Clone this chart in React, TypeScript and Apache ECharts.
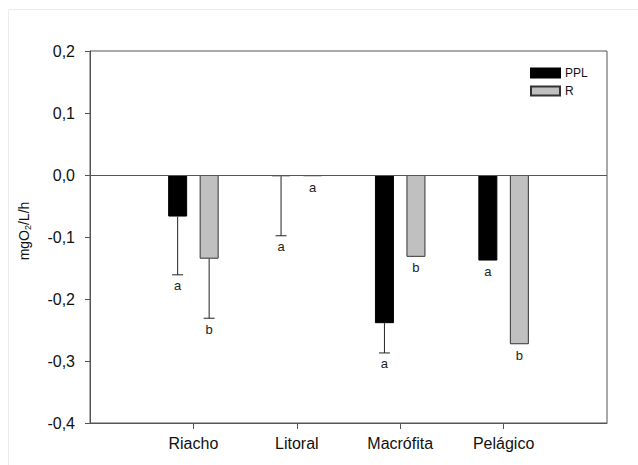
import React, { useEffect, useRef } from 'react';
import * as echarts from 'echarts';

const categories = ['Riacho', 'Litoral', 'Macrófita', 'Pelágico'];
const pplValues = [-0.067, -0.002, -0.239, -0.138];
const rValues = [-0.135, -0.002, -0.132, -0.273];
const pplErrors = [0.094, 0.096, 0.048, 0];
const rErrors = [0.096, 0, 0, 0];
const pplLetters = ['a', 'a', 'a', 'a'];
const rLetters = ['b', 'a', 'b', 'b'];
const yMin = -0.4;
const yMax = 0.2;
const yStep = 0.1;
const yTitle = 'mgO{sub|2}/L/h';

const FONT = '"Liberation Sans", Arial, sans-serif';
const BAR_W = 19;
const BAR_GAP_PX = 12.5;

const axisCategories = ['', ...categories, ' '];

function makeRender(offset: number, letters: string[]) {
  return (params: any, api: any) => {
    const idx = api.value(0);
    const v = api.value(1);
    const e = api.value(2);
    const top = api.coord([idx, v]);
    const end = api.coord([idx, v - e]);
    const x = top[0] + offset;
    const children: any[] = [];
    if (e > 0) {
      children.push({
        type: 'line',
        shape: { x1: x, y1: top[1], x2: x, y2: end[1] },
        style: { stroke: '#222', lineWidth: 1 },
      });
      children.push({
        type: 'line',
        shape: { x1: x - 5.5, y1: end[1], x2: x + 5.5, y2: end[1] },
        style: { stroke: '#222', lineWidth: 1 },
      });
    }
    children.push({
      type: 'text',
      x,
      y: end[1] + 11,
      style: {
        text: letters[params.dataIndex],
        fill: '#222',
        fontSize: 13,
        fontFamily: FONT,
        align: 'center',
        verticalAlign: 'middle',
      },
    });
    return { type: 'group', children };
  };
}

export default function App() {
  const ref = useRef<HTMLDivElement>(null);
  useEffect(() => {
    if (!ref.current) return;
    const chart = echarts.init(ref.current, undefined, { renderer: 'svg' });
    const offset = (BAR_W + BAR_GAP_PX) / 2;
    const pad = (arr: number[]) => ['-', ...arr, '-'];
    chart.setOption({
      animation: false,
      backgroundColor: '#fff',
      textStyle: { fontFamily: FONT },
      graphic: [
        {
          type: 'rect',
          shape: { x: 8.5, y: 9.5, width: 640, height: 470 },
          style: { fill: 'none', stroke: '#ececec', lineWidth: 1 },
          silent: true,
        },
        {
          type: 'text',
          x: 24,
          y: 231,
          rotation: Math.PI / 2,
          silent: true,
          style: {
            text: yTitle,
            fontSize: 14,
            fontFamily: FONT,
            fill: '#111',
            align: 'center',
            verticalAlign: 'middle',
            rich: {
              sub: { fontSize: 9, fontFamily: FONT, fill: '#111', padding: [7, 0, 0, 0] },
            },
          },
        },
      ],
      grid: {
        left: 90,
        right: 31,
        top: 51,
        bottom: 42,
        show: true,
        borderColor: '#555',
        borderWidth: 1,
        backgroundColor: 'transparent',
      },
      legend: {
        data: ['PPL', 'R'],
        orient: 'vertical',
        left: 525,
        top: 62,
        itemWidth: 29,
        itemHeight: 9,
        itemGap: 6,
        icon: 'rect',
        textStyle: { fontSize: 12, color: '#111', fontFamily: FONT },
      },
      xAxis: {
        type: 'category',
        data: axisCategories,
        boundaryGap: false,
        position: 'bottom',
        axisLine: { show: true, onZero: false, lineStyle: { color: '#555', width: 1 } },
        axisTick: {
          show: true,
          length: 6,
          inside: false,
          interval: (i: number, v: string) => v.trim() !== '',
          lineStyle: { color: '#555' },
        },
        axisLabel: {
          interval: 0,
          margin: 12,
          fontSize: 16,
          color: '#111',
          fontFamily: FONT,
        },
        splitLine: { show: false },
      },
      yAxis: {
        type: 'value',
        min: yMin,
        max: yMax,
        interval: yStep,
        axisLine: { show: true, lineStyle: { color: '#555', width: 1 } },
        axisTick: { show: true, length: 5, inside: false, lineStyle: { color: '#555' } },
        axisLabel: {
          margin: 15,
          fontSize: 16,
          color: '#111',
          fontFamily: FONT,
          formatter: (v: number) => (Math.abs(v) < 1e-9 ? '0,0' : v.toFixed(1).replace('.', ',')),
        },
        splitLine: { show: false },
      },
      series: [
        {
          name: 'PPL',
          type: 'bar',
          data: pad(pplValues),
          barWidth: BAR_W,
          barGap: `${(BAR_GAP_PX / BAR_W) * 100}%`,
          itemStyle: { color: '#000', borderColor: '#000', borderWidth: 1 },
          markLine: {
            silent: true,
            symbol: ['none', 'none'],
            label: { show: false },
            lineStyle: { color: '#555', width: 1, type: 'solid' },
            data: [{ yAxis: 0 }],
          },
        },
        {
          name: 'R',
          type: 'bar',
          data: pad(rValues),
          barWidth: BAR_W,
          barGap: `${(BAR_GAP_PX / BAR_W) * 100}%`,
          itemStyle: { color: '#c0c0c0', borderColor: '#333', borderWidth: 1 },
        },
        {
          name: 'PPL err',
          type: 'custom',
          z: 5,
          renderItem: makeRender(-offset, pplLetters),
          data: categories.map((_, i) => [i + 1, pplValues[i], pplErrors[i]]),
        },
        {
          name: 'R err',
          type: 'custom',
          z: 5,
          renderItem: makeRender(offset, rLetters),
          data: categories.map((_, i) => [i + 1, rValues[i], rErrors[i]]),
        },
      ],
    });
    return () => chart.dispose();
  }, []);
  return (
    <div
      ref={ref}
      style={{ position: 'absolute', left: 0, top: 0, width: 638, height: 465 }}
    />
  );
}
